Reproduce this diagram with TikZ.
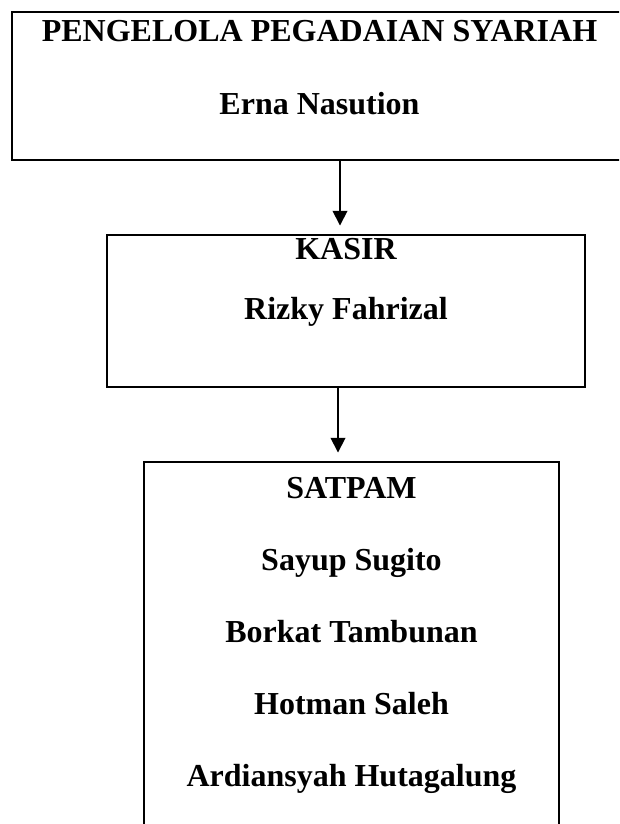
\documentclass[tikz,border=0pt]{standalone}
\usepackage{fontspec}
\setmainfont{Liberation Serif}
\usetikzlibrary{arrows.meta}

\begin{document}
\begin{tikzpicture}[x=0.75pt,y=-0.75pt,
    kotak/.style={draw,line width=1.2pt,rectangle,inner sep=0pt},
    teks/.style={anchor=base,font=\fontsize{24}{28}\selectfont\bfseries},
    panah/.style={-{Triangle[width=11pt,length=11pt]},line width=1.3pt,shorten >=6.5pt}]
  \useasboundingbox (0,0) rectangle (619,824);
  \clip (0,0) rectangle (619,824);
  % kotak
  \node[kotak,minimum width=461.25pt,minimum height=111pt] (pengelola) at (319.5,86) {};
  \node[kotak,minimum width=358.5pt,minimum height=114pt] (kasir) at (346,311) {};
  \node[kotak,minimum width=311.25pt,minimum height=283.5pt] (satpam) at (351.5,651) {};
  % teks
  \node[teks] (t1) at (319.5,42) {PENGELOLA PEGADAIAN SYARIAH};
  \node[teks] (t2) at (319.5,114) {Erna Nasution};
  \node[teks] (t3) at (346,259) {KASIR};
  \node[teks] (t4) at (346,319) {Rizky Fahrizal};
  \node[teks] (t5) at (351.5,498) {SATPAM};
  \node[teks] (t6) at (351.5,570) {Sayup Sugito};
  \node[teks] (t7) at (351.5,642) {Borkat Tambunan};
  \node[teks] (t8) at (351.5,714) {Hotman Saleh};
  \node[teks] (t9) at (351.5,786) {Ardiansyah Hutagalung};
  % panah
  \coordinate (p1) at (340,0);
  \coordinate (p2) at (338,0);
  \draw[panah] (p1 |- pengelola.south) -- (p1 |- kasir.north);
  \draw[panah] (p2 |- kasir.south) -- (p2 |- satpam.north);
\end{tikzpicture}
\end{document}
